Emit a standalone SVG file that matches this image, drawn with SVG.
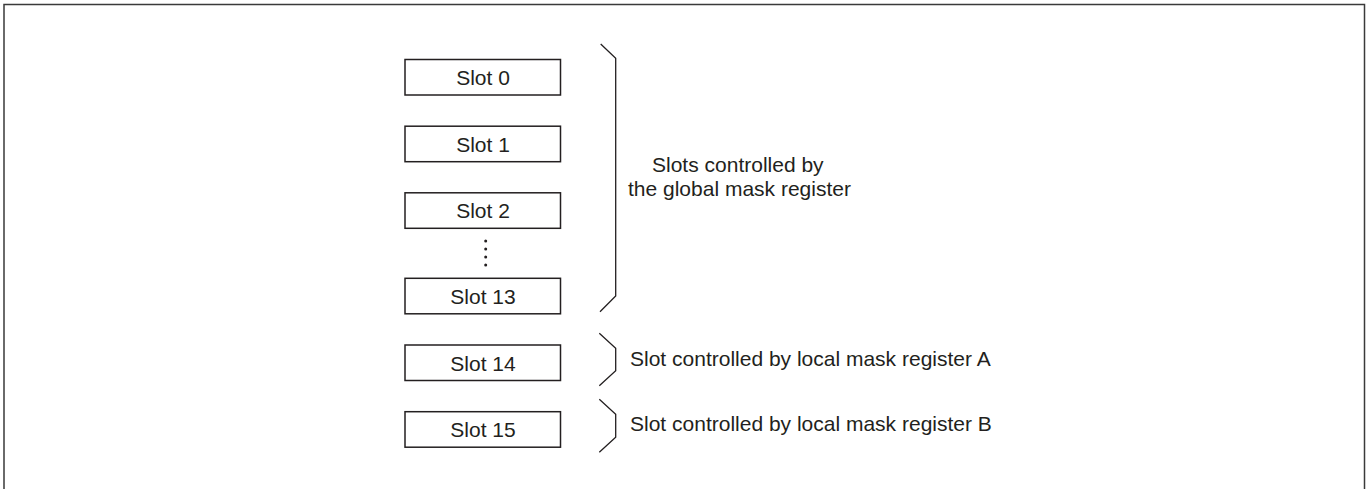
<svg xmlns="http://www.w3.org/2000/svg" width="1372" height="489" viewBox="0 0 1372 489">
<style>
.box{fill:#fff;stroke:#231f20;stroke-width:1.5}
.lbl{font-family:"Liberation Sans",Arial,sans-serif;font-size:21px;fill:#231f20}
.c{text-anchor:middle}
.br{fill:none;stroke:#231f20;stroke-width:1.3}
.frame{fill:none;stroke:#3a3a3a;stroke-width:1.5}
</style>
<rect width="1372" height="489" fill="#fff"/>
<rect class="frame" x="4" y="4.5" width="1360.5" height="520"/>
<g id="slot0"><rect class="box" x="405" y="59.5" width="155.5" height="35.5"/><text class="lbl c" x="483" y="85">Slot 0</text></g>
<g id="slot1"><rect class="box" x="405" y="126.2" width="155.5" height="35.5"/><text class="lbl c" x="483" y="151.7">Slot 1</text></g>
<g id="slot2"><rect class="box" x="405" y="192.8" width="155.5" height="35.5"/><text class="lbl c" x="483" y="218.3">Slot 2</text></g>
<g id="dots" fill="#231f20"><circle cx="485.7" cy="241" r="1.5"/><circle cx="485.7" cy="249" r="1.5"/><circle cx="485.7" cy="257" r="1.5"/><circle cx="485.7" cy="265" r="1.5"/></g>
<g id="slot13"><rect class="box" x="405" y="278.3" width="155.5" height="35.5"/><text class="lbl c" x="483" y="303.8">Slot 13</text></g>
<g id="slot14"><rect class="box" x="405" y="345" width="155.5" height="35.5"/><text class="lbl c" x="483" y="370.5">Slot 14</text></g>
<g id="slot15"><rect class="box" x="405" y="411.7" width="155.5" height="35.5"/><text class="lbl c" x="483" y="437.2">Slot 15</text></g>
<g id="connectors">
<path class="br" d="M600.7,44 L615.7,58.3 L615.7,296 L600,311.7"/>
<path class="br" d="M599.3,333.3 L615.7,348.3 L615.7,370.7 L599.3,385.7"/>
<path class="br" d="M599.3,399.3 L615.7,414.3 L615.7,437.3 L599.3,452.3"/>
</g>
<g id="label-global"><text class="lbl" x="652" y="172.3">Slots controlled by</text><text class="lbl" x="628" y="196">the global mask register</text></g>
<g id="label-a"><text class="lbl" x="630" y="366">Slot controlled by local mask register A</text></g>
<g id="label-b"><text class="lbl" x="630" y="431">Slot controlled by local mask register B</text></g>
</svg>
